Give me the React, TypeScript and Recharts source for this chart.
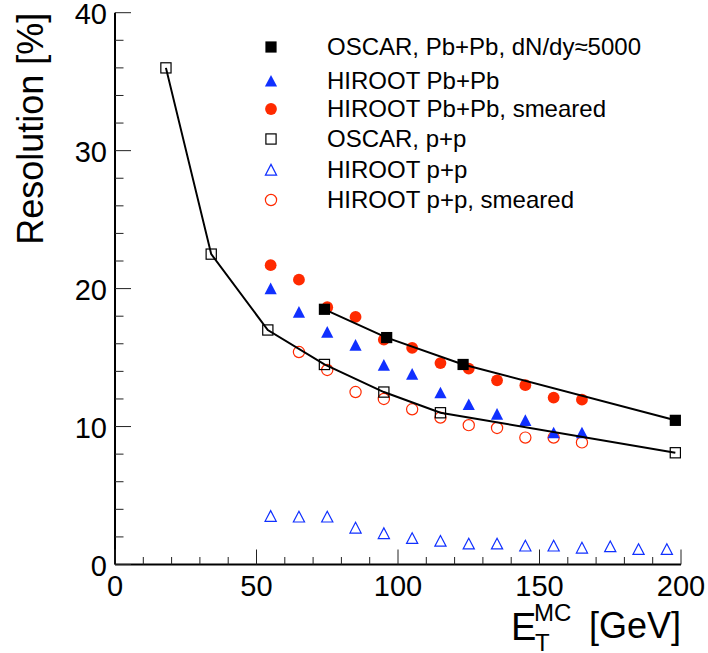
import React from 'react';
import { ComposedChart, Scatter, XAxis, YAxis, Legend } from 'recharts';

// ---- data ----
const oscarPbPbX = [74, 96, 123, 198];
const oscarPbPbY = [18.5, 16.45, 14.5, 10.45];

const hirootPbPbX = [55, 65, 75, 85, 95, 105, 115, 125, 135, 145, 155, 165];
const hirootPbPbY = [20.0, 18.3, 16.85, 15.9, 14.45, 13.8, 12.45, 11.6, 10.9, 10.45, 9.55, 9.55];

const hirootPbPbSmearedX = [55, 65, 75, 85, 95, 105, 115, 125, 135, 145, 155, 165];
const hirootPbPbSmearedY = [21.7, 20.65, 18.65, 17.95, 16.3, 15.7, 14.6, 14.2, 13.35, 13.0, 12.1, 11.95];

const oscarPpX = [18, 34, 54, 74, 95, 115, 198];
const oscarPpY = [36.0, 22.5, 17.0, 14.5, 12.5, 11.0, 8.1];

const hirootPpX = [55, 65, 75, 85, 95, 105, 115, 125, 135, 145, 155, 165, 175, 185, 195];
const hirootPpY = [3.5, 3.45, 3.45, 2.65, 2.25, 1.9, 1.7, 1.5, 1.5, 1.35, 1.35, 1.2, 1.3, 1.1, 1.1];

const hirootPpSmearedX = [65, 75, 85, 95, 105, 115, 125, 135, 145, 155, 165];
const hirootPpSmearedY = [15.4, 14.1, 12.5, 12.0, 11.25, 10.65, 10.1, 9.9, 9.2, 9.2, 8.85];

const xTicks = [0, 10, 20, 30, 40, 50, 60, 70, 80, 90, 100, 110, 120, 130, 140, 150, 160, 170, 180, 190, 200];
const yTicks = [0, 2, 4, 6, 8, 10, 12, 14, 16, 18, 20, 22, 24, 26, 28, 30, 32, 34, 36, 38, 40];

const legendLabels = [
  'OSCAR, Pb+Pb, dN/dy\u22485000',
  'HIROOT Pb+Pb',
  'HIROOT Pb+Pb, smeared',
  'OSCAR, p+p',
  'HIROOT p+p',
  'HIROOT p+p, smeared',
];

const zip = (xs: number[], ys: number[]) => xs.map((x, i) => ({ x, y: ys[i] }));

const BLUE = '#1030ff';
const RED = '#ff2a00';
const FONT = '"Liberation Sans", Arial, Helvetica, sans-serif';

type MarkerKind = 'fsquare' | 'ftri' | 'fcircle' | 'osquare' | 'otri' | 'ocircle';
const markerKinds: MarkerKind[] = ['fsquare', 'ftri', 'fcircle', 'osquare', 'otri', 'ocircle'];

function markerEl(kind: MarkerKind, cx: number, cy: number) {
  const s = 5.6;
  switch (kind) {
    case 'fsquare':
      return <rect x={cx - s} y={cy - s} width={2 * s} height={2 * s} fill="#000" />;
    case 'osquare':
      return <rect x={cx - s + 0.5} y={cy - s + 0.5} width={2 * s - 1} height={2 * s - 1} fill="none" stroke="#000" strokeWidth={1.2} />;
    case 'ftri':
      return <polygon points={`${cx},${cy - s - 0.5} ${cx + s + 0.5},${cy + s} ${cx - s - 0.5},${cy + s}`} fill={BLUE} />;
    case 'otri':
      return <polygon points={`${cx},${cy - s} ${cx + s},${cy + s - 0.5} ${cx - s},${cy + s - 0.5}`} fill="none" stroke={BLUE} strokeWidth={1.2} />;
    case 'fcircle':
      return <circle cx={cx} cy={cy} r={s + 0.3} fill={RED} />;
    case 'ocircle':
      return <circle cx={cx} cy={cy} r={s} fill="none" stroke={RED} strokeWidth={1.2} />;
  }
}

const shapeFor = (kind: MarkerKind) => (props: any) => {
  const { cx, cy } = props;
  if (cx == null || cy == null) return <g />;
  return <g>{markerEl(kind, cx, cy)}</g>;
};

const XTickBottom = (props: any) => {
  const { x, y, payload } = props;
  const v = payload.value;
  const major = v % 50 === 0;
  return (
    <g>
      <line x1={x} x2={x} y1={y} y2={y - (major ? 15 : 7.5)} stroke="#222" strokeWidth={1} />
      {major && (
        <text x={x} y={y + 31.5} textAnchor="middle" fontSize={29} fontFamily={FONT} fill="#000">
          {v}
        </text>
      )}
    </g>
  );
};

const XTickTop = (props: any) => {
  const { x, y, payload } = props;
  const major = payload.value % 50 === 0;
  return <line x1={x} x2={x} y1={y} y2={y + (major ? 15 : 7.5)} stroke="#222" strokeWidth={1} />;
};

const YTickLeft = (props: any) => {
  const { x, y, payload } = props;
  const v = payload.value;
  const major = v % 10 === 0;
  return (
    <g>
      <line x1={x} x2={x + (major ? 16 : 8.5)} y1={y} y2={y} stroke="#222" strokeWidth={1} />
      {major && (
        <text x={x - 8} y={y + 11.5} textAnchor="end" fontSize={29} fontFamily={FONT} fill="#000">
          {v}
        </text>
      )}
    </g>
  );
};

const YTickRight = (props: any) => {
  const { x, y, payload } = props;
  const major = payload.value % 10 === 0;
  return <line x1={x} x2={x - (major ? 16 : 8.5)} y1={y} y2={y} stroke="#222" strokeWidth={1} />;
};

const YTitle = (props: any) => {
  const vb = props.viewBox || {};
  const top = vb.y ?? 13;
  return (
    <text
      transform={`translate(43, ${top}) rotate(-90)`}
      textAnchor="end"
      fontSize={36}
      fontFamily={FONT}
      fill="#000"
    >
      Resolution [%]
    </text>
  );
};

const XTitle = (props: any) => {
  const vb = props.viewBox || {};
  const right = (vb.x ?? 115) + (vb.width ?? 566);
  return (
    <g fontFamily={FONT} fill="#000">
      <text x={right - 170} y={640} fontSize={38}>E</text>
      <text x={right - 146} y={651} fontSize={24}>T</text>
      <text x={right - 147} y={621} fontSize={24}>MC</text>
      <text x={right} y={638} fontSize={36} textAnchor="end">[GeV]</text>
    </g>
  );
};

const rowCenters = [47, 81, 108.5, 139, 170, 199.5];

const LegendContent = () => (
  <div style={{ position: 'relative', width: 420, height: 220 }}>
    {legendLabels.map((label, i) => (
      <div key={label} style={{ position: 'absolute', left: 0, top: rowCenters[i] - 15, height: 30, display: 'flex', alignItems: 'center' }}>
        <svg width={20} height={30} style={{ display: 'block' }}>
          {markerEl(markerKinds[i], 10, 15)}
        </svg>
        <span style={{ marginLeft: 46, fontSize: 24, fontFamily: FONT, color: '#000', whiteSpace: 'nowrap', lineHeight: '30px' }}>
          {label}
        </span>
      </div>
    ))}
  </div>
);

export default function App() {
  return (
    <div style={{ position: 'absolute', left: 0, top: 0, width: 708, height: 653, background: '#fff' }}>
      <ComposedChart
        width={708}
        height={653}
        margin={{ top: 12.7, right: 27, left: 15, bottom: 28.5 }}
      >
        <XAxis
          xAxisId="b"
          type="number"
          dataKey="x"
          domain={[0, 200]}
          ticks={xTicks}
          interval={0}
          allowDataOverflow
          height={60}
          tickSize={0}
          tickMargin={0}
          tickLine={false}
          axisLine={{ stroke: '#000', strokeWidth: 2 }}
          tick={<XTickBottom />}
          label={<XTitle />}
        />
        <XAxis
          xAxisId="t"
          orientation="top"
          type="number"
          dataKey="x"
          domain={[0, 200]}
          ticks={xTicks}
          interval={0}
          allowDataOverflow
          height={0}
          tickSize={0}
          tickMargin={0}
          tickLine={false}
          axisLine={{ stroke: '#000', strokeWidth: 2 }}
          tick={<XTickTop />}
        />
        <YAxis
          yAxisId="l"
          type="number"
          dataKey="y"
          domain={[0, 40]}
          ticks={yTicks}
          interval={0}
          allowDataOverflow
          width={100}
          tickSize={0}
          tickMargin={0}
          tickLine={false}
          axisLine={{ stroke: '#000', strokeWidth: 2 }}
          tick={<YTickLeft />}
          label={<YTitle />}
        />
        <YAxis
          yAxisId="r"
          orientation="right"
          type="number"
          dataKey="y"
          domain={[0, 40]}
          ticks={yTicks}
          interval={0}
          allowDataOverflow
          width={0}
          tickSize={0}
          tickMargin={0}
          tickLine={false}
          axisLine={{ stroke: '#000', strokeWidth: 2 }}
          tick={<YTickRight />}
        />
        <Legend
          layout="vertical"
          align="center"
          verticalAlign="middle"
          content={<LegendContent />}
          wrapperStyle={{ position: 'absolute', left: 261, top: 0, width: 420, height: 220 }}
        />
        <Scatter name="hpp" xAxisId="b" yAxisId="l" data={zip(hirootPpX, hirootPpY)} shape={shapeFor('otri')} isAnimationActive={false} />
        <Scatter name="hppS" xAxisId="b" yAxisId="l" data={zip(hirootPpSmearedX, hirootPpSmearedY)} shape={shapeFor('ocircle')} isAnimationActive={false} />
        <Scatter name="hPb" xAxisId="b" yAxisId="l" data={zip(hirootPbPbX, hirootPbPbY)} shape={shapeFor('ftri')} isAnimationActive={false} />
        <Scatter name="hPbS" xAxisId="b" yAxisId="l" data={zip(hirootPbPbSmearedX, hirootPbPbSmearedY)} shape={shapeFor('fcircle')} isAnimationActive={false} />
        <Scatter
          name="opp"
          xAxisId="b"
          yAxisId="l"
          data={zip(oscarPpX, oscarPpY)}
          shape={shapeFor('osquare')}
          line={{ stroke: '#000', strokeWidth: 2 }}
          lineType="joint"
          isAnimationActive={false}
        />
        <Scatter
          name="oPb"
          xAxisId="b"
          yAxisId="l"
          data={zip(oscarPbPbX, oscarPbPbY)}
          shape={shapeFor('fsquare')}
          line={{ stroke: '#000', strokeWidth: 2 }}
          lineType="joint"
          isAnimationActive={false}
        />
      </ComposedChart>
    </div>
  );
}
